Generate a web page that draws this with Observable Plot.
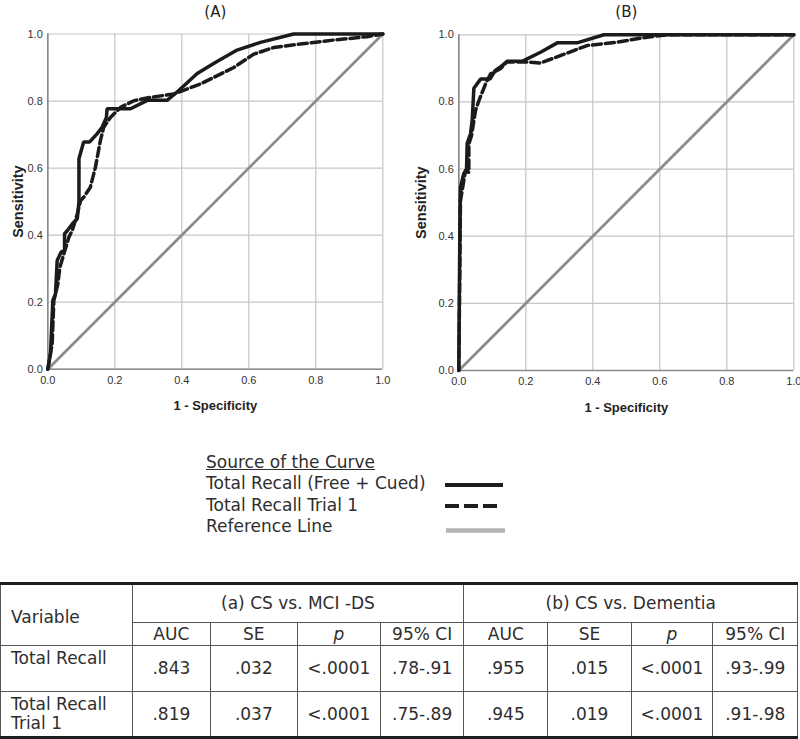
<!DOCTYPE html>
<html>
<head>
<meta charset="utf-8">
<script src="https://cdn.jsdelivr.net/npm/d3@7"></script>
<script src="https://cdn.jsdelivr.net/npm/@observablehq/plot@0.6"></script>
<style>
  html, body { margin: 0; padding: 0; background: #fff; }
  #page { position: relative; width: 800px; height: 739px; overflow: hidden; background: #fff; }
  #panels { position: absolute; left: 0; top: 0; display: flex; width: 800px; }
  #panels > div { width: 400px; height: 420px; }
  #legend { position: absolute; left: 206px; top: 452px; font-family: "DejaVu Sans", sans-serif; font-size: 17px; line-height: 21.4px; color: #2e2e2e; white-space: nowrap; }
  #legend .head { text-decoration: underline; }
  #swatches { position: absolute; left: 440px; top: 474px; }
  #tbl { position: absolute; left: 0; top: 582px; width: 797px; border-collapse: collapse; table-layout: fixed;
         font-family: "DejaVu Sans", sans-serif; font-size: 17px; color: #2e2e2e; }
  #tbl td { border: 1px solid #555; text-align: center; vertical-align: middle; padding: 0; line-height: 19px; box-sizing: border-box; }
  #tbl tr.r1 td { border-top: 3px solid #1e1e1e; }
  #tbl tr.r1 { height: 39px; }
  #tbl tr.r2 { height: 23px; }
  #tbl tr.r3, #tbl tr.r4 { height: 46px; }
  #tbl tr.r4 td { border-bottom: 3px solid #1e1e1e; }
  #tbl td.var { text-align: left; padding-left: 10px; padding-top: 4px; }
  #tbl td.rowname { text-align: left; vertical-align: top; padding-left: 10px; padding-top: 3px; }
</style>
</head>
<body>
<div id="page">
  <div id="panels"><div id="pa"></div><div id="pb"></div></div>
  <div id="legend">
    <div class="head">Source of the Curve</div>
    <div id="legendItems"></div>
  </div>
  <svg id="swatches" width="75" height="62"></svg>
  <table id="tbl"></table>
</div>
<script>
// ---------- data ----------
const axisTicks = [0, 0.2, 0.4, 0.6, 0.8, 1.0];
const panelTitles = ["(A)", "(B)"];
const xLabel = "1 - Specificity";
const yLabel = "Sensitivity";
const refLine = [0, 1];

// Panel A: Total Recall (Free + Cued)
const aTotalX = [0, 0.008, 0.015, 0.023, 0.028, 0.04, 0.05, 0.05, 0.058, 0.073, 0.088, 0.093, 0.093, 0.107, 0.125, 0.147, 0.162, 0.175, 0.177, 0.212, 0.247, 0.297, 0.356, 0.386, 0.446, 0.5, 0.565, 0.635, 0.734, 1.0];
const aTotalY = [0, 0.046, 0.205, 0.225, 0.324, 0.35, 0.354, 0.404, 0.413, 0.433, 0.449, 0.5, 0.628, 0.678, 0.678, 0.702, 0.722, 0.751, 0.777, 0.777, 0.777, 0.802, 0.802, 0.827, 0.882, 0.915, 0.952, 0.975, 1.0, 1.0];
// Panel A: Total Recall Trial 1
const aTrial1X = [0, 0.013, 0.018, 0.03, 0.036, 0.048, 0.063, 0.073, 0.088, 0.098, 0.107, 0.127, 0.142, 0.157, 0.167, 0.187, 0.217, 0.257, 0.306, 0.376, 0.456, 0.555, 0.615, 0.675, 0.754, 0.854, 0.953, 1.0];
const aTrial1Y = [0, 0.076, 0.205, 0.254, 0.304, 0.344, 0.394, 0.414, 0.463, 0.503, 0.513, 0.543, 0.602, 0.682, 0.722, 0.751, 0.781, 0.801, 0.811, 0.821, 0.851, 0.9, 0.94, 0.96, 0.97, 0.982, 0.992, 1.0];
// Panel B: Total Recall (Free + Cued)
const bTotalX = [0, 0.003, 0.005, 0.015, 0.023, 0.025, 0.035, 0.04, 0.045, 0.065, 0.093, 0.109, 0.124, 0.144, 0.189, 0.244, 0.294, 0.353, 0.433, 1.0];
const bTotalY = [0, 0.407, 0.546, 0.587, 0.597, 0.677, 0.705, 0.746, 0.841, 0.868, 0.868, 0.894, 0.904, 0.921, 0.921, 0.948, 0.976, 0.976, 1.0, 1.0];
// Panel B: Total Recall Trial 1
const bTrial1X = [0, 0.005, 0.015, 0.02, 0.03, 0.03, 0.038, 0.05, 0.06, 0.08, 0.095, 0.124, 0.144, 0.204, 0.244, 0.303, 0.383, 0.473, 0.562, 0.622, 1.0];
const bTrial1Y = [0, 0.506, 0.566, 0.596, 0.59, 0.675, 0.70, 0.775, 0.804, 0.854, 0.884, 0.899, 0.919, 0.919, 0.916, 0.938, 0.968, 0.978, 0.993, 1.0, 1.0];

// Legend
const legendLabels = ["Total Recall (Free + Cued)", "Total Recall Trial 1", "Reference Line"];

// Table
const groupHeaders = ["(a) CS vs. MCI -DS", "(b) CS vs. Dementia"];
const statHeaders = ["AUC", "SE", "p", "95% CI"];
const rowNames = [["Total Recall"], ["Total Recall", "Trial 1"]];
const aucA = [".843", ".819"];
const seA = [".032", ".037"];
const pA = ["<.0001", "<.0001"];
const ciA = [".78-.91", ".75-.89"];
const aucB = [".955", ".945"];
const seB = [".015", ".019"];
const pB = ["<.0001", "<.0001"];
const ciB = [".93-.99", ".91-.98"];

// ---------- styles ----------
const curveColor = "#1b1b1b";
const refColor = "#8c8c8c";
const gridColor = "#c6c6c6";
const axisColor = "#8a8a8a";
const dash = "9,4";

function rows(xs, ys) { return xs.map((x, i) => ({x, y: ys[i]})); }

function panel(title, totalRows, trialRows, m) {
  return Plot.plot({
    width: 400,
    height: 420,
    marginLeft: m.left, marginRight: m.right, marginTop: m.top, marginBottom: m.bottom,
    x: {domain: [0, 1]},
    y: {domain: [0, 1]},
    style: {fontFamily: "'Liberation Sans', Arial, sans-serif", fontSize: "11px", color: "#333", background: "white", overflow: "visible"},
    marks: [
      Plot.gridX(axisTicks, {stroke: gridColor, strokeOpacity: 1, strokeWidth: 1.2}),
      Plot.gridY(axisTicks, {stroke: gridColor, strokeOpacity: 1, strokeWidth: 1.2}),
      Plot.ruleX([0], {stroke: axisColor, strokeWidth: 1.6}),
      Plot.ruleY([0], {stroke: axisColor, strokeWidth: 1.6}),
      Plot.axisX(axisTicks, {tickSize: 0, tickPadding: 7, tickFormat: d3.format(".1f"), label: null, fontSize: 11}),
      Plot.axisY(axisTicks, {tickSize: 0, tickPadding: 5, tickFormat: d3.format(".1f"), label: null, fontSize: 11}),
      Plot.line(refLine, {x: d => d, y: d => d, stroke: refColor, strokeWidth: 2.8}),
      Plot.line(totalRows, {x: "x", y: "y", stroke: curveColor, strokeWidth: 3.5, strokeLinejoin: "miter"}),
      Plot.line(trialRows, {x: "x", y: "y", stroke: curveColor, strokeWidth: 3.5, strokeDasharray: dash}),
      Plot.text([title], {frameAnchor: "top", textAnchor: "middle", lineAnchor: "middle", dy: m.titleDy, fontSize: 15, fontFamily: "'DejaVu Sans', sans-serif", fill: "#222"}),
      Plot.text([xLabel], {frameAnchor: "bottom", textAnchor: "middle", lineAnchor: "middle", dy: 37, fontSize: 13, fontWeight: "bold", fill: "#222"}),
      Plot.text([yLabel], {frameAnchor: "left", textAnchor: "middle", lineAnchor: "middle", rotate: -90, dx: m.yLabelDx, fontSize: 14.5, fontWeight: "bold", fill: "#222"})
    ]
  });
}

document.getElementById("pa").appendChild(
  panel(panelTitles[0], rows(aTotalX, aTotalY), rows(aTrial1X, aTrial1Y),
        {left: 47.3, right: 17.7, top: 33.5, bottom: 51.3, titleDy: -21.8, yLabelDx: -29.3}));
document.getElementById("pb").appendChild(
  panel(panelTitles[1], rows(bTotalX, bTotalY), rows(bTrial1X, bTrial1Y),
        {left: 58.3, right: 6.7, top: 34.3, bottom: 50, titleDy: -22.6, yLabelDx: -37.6}));

// ---------- legend ----------
const li = d3.select("#legendItems");
legendLabels.forEach(t => li.append("div").text(t));
const sw = d3.select("#swatches");
const swStyles = [
  {stroke: "#1e1e1e", width: 4.2, dash: null, x1: 5, x2: 63},
  {stroke: "#1e1e1e", width: 4.2, dash: "14,5", x1: 5, x2: 60},
  {stroke: "#b3b3b3", width: 4.6, dash: null, x1: 6, x2: 65}
];
const swY = [11, 32, 56.5];
swStyles.forEach((s, i) => {
  const l = sw.append("line").attr("x1", s.x1).attr("x2", s.x2).attr("y1", swY[i]).attr("y2", swY[i])
    .attr("stroke", s.stroke).attr("stroke-width", s.width);
  if (s.dash) l.attr("stroke-dasharray", s.dash);
});

// ---------- table ----------
const tbl = d3.select("#tbl");
const colW = [131.7, 78.3, 86.7, 83.3, 83.3, 84, 83.3, 81.7, 85];
const cg = tbl.append("colgroup");
colW.forEach(w => cg.append("col").style("width", w + "px"));
const r1 = tbl.append("tr").attr("class", "r1");
r1.append("td").attr("rowspan", 2).attr("class", "var").text("Variable");
groupHeaders.forEach(g => r1.append("td").attr("colspan", 4).text(g));
const r2 = tbl.append("tr").attr("class", "r2");
[0, 1].forEach(() => statHeaders.forEach(h => {
  const td = r2.append("td");
  if (h === "p") td.append("i").text(h); else td.text(h);
}));
rowNames.forEach((nm, i) => {
  const tr = tbl.append("tr").attr("class", "r" + (i + 3));
  const c = tr.append("td").attr("class", "rowname");
  nm.forEach((line, j) => { if (j) c.append("br"); c.append("span").text(line); });
  [aucA[i], seA[i], pA[i], ciA[i], aucB[i], seB[i], pB[i], ciB[i]].forEach(v => tr.append("td").text(v));
});
</script>
</body>
</html>
